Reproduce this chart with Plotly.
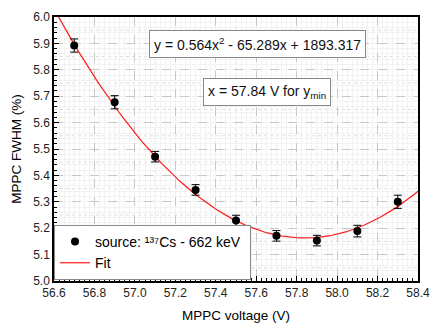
import numpy as np
import plotly.graph_objects as go

# Data
voltage = [56.7, 56.9, 57.1, 57.3, 57.5, 57.7, 57.9, 58.1, 58.3]
fwhm = [5.892, 5.677, 5.471, 5.345, 5.229, 5.171, 5.153, 5.189, 5.300]
fwhm_err = [0.025, 0.025, 0.020, 0.020, 0.020, 0.020, 0.020, 0.022, 0.025]

x_ticks = [56.6, 56.8, 57.0, 57.2, 57.4, 57.6, 57.8, 58.0, 58.2, 58.4]
x_ticklabels = ["56.6", "56.8", "57.0", "57.2", "57.4", "57.6", "57.8", "58.0", "58.2", "58.4"]
y_ticks = [5.0, 5.1, 5.2, 5.3, 5.4, 5.5, 5.6, 5.7, 5.8, 5.9, 6.0]
y_ticklabels = ["5.0", "5.1", "5.2", "5.3", "5.4", "5.5", "5.6", "5.7", "5.8", "5.9", "6.0"]

# Fit (quadratic) parameters as shown
fit_a = 0.564
fit_xmin = 57.84
fit_ymin = 5.163
fit_x = np.linspace(56.6, 58.4, 200)
fit_y = fit_a * (fit_x - fit_xmin) ** 2 + fit_ymin

x_range = [56.6, 58.4]
y_range = [5.0, 6.0]

fig = go.Figure()

# half-interval grid lines (minor grid)
shapes = []
for xv in np.arange(56.7, 58.4, 0.2):
    shapes.append(dict(type="line", xref="x", yref="paper", x0=xv, x1=xv, y0=0, y1=1,
                       line=dict(color="#dcdcdc", width=1, dash="dot"), layer="below"))
for yv in np.arange(5.05, 6.0, 0.1):
    shapes.append(dict(type="line", xref="paper", yref="y", x0=0, x1=1, y0=yv, y1=yv,
                       line=dict(color="#dcdcdc", width=1, dash="dot"), layer="below"))

fig.add_trace(go.Scatter(
    x=fit_x, y=fit_y, mode="lines", name="Fit",
    line=dict(color="#ff1a1a", width=1.2),
))
fig.add_trace(go.Scatter(
    x=voltage, y=fwhm, mode="markers",
    name="source: ¹³⁷Cs - 662 keV&nbsp;",
    marker=dict(color="black", size=8),
    error_y=dict(type="data", array=fwhm_err, color="black", thickness=1, width=4),
))

axis_font = dict(family="Liberation Sans, Arial", size=12, color="#222")
fig.update_layout(
    width=430, height=323,
    margin=dict(l=54, r=12, t=17, b=42),
    paper_bgcolor="white", plot_bgcolor="white",
    font=dict(family="Liberation Sans, Arial", size=13, color="black"),
    showlegend=True,
    shapes=shapes,
    legend=dict(
        x=0.0, y=0.004, xanchor="left", yanchor="bottom",
        bgcolor="white", bordercolor="#888", borderwidth=1,
        font=dict(size=14), traceorder="reversed",
        tracegroupgap=0, itemwidth=30,
    ),
    xaxis=dict(
        range=x_range, tickmode="array", tickvals=x_ticks, ticktext=x_ticklabels,
        showgrid=True, gridcolor="#c8c8c8", griddash="dash", gridwidth=1,
        ticks="inside", ticklen=5, tickcolor="black",
        showline=True, linecolor="black", linewidth=1.5, mirror=True,
        zeroline=False, tickfont=axis_font, automargin=False,
        ticklabeloverflow="allow",
        minor=dict(dtick=0.025, tick0=56.6, ticks="inside", ticklen=3, tickcolor="black",
                   showgrid=True, gridcolor="#f2f2f2", griddash="solid"),
        title=dict(text="MPPC voltage (V)", font=dict(size=13.5), standoff=14),
    ),
    yaxis=dict(
        range=y_range, tickmode="array", tickvals=y_ticks, ticktext=y_ticklabels,
        showgrid=True, gridcolor="#c8c8c8", griddash="dash", gridwidth=1,
        ticks="inside", ticklen=5, tickcolor="black",
        showline=True, linecolor="black", linewidth=1.5, mirror=True,
        zeroline=False, tickfont=axis_font, automargin=False,
        ticklabeloverflow="allow",
        minor=dict(dtick=0.02, tick0=5.0, ticks="inside", ticklen=3, tickcolor="black",
                   showgrid=True, gridcolor="#f2f2f2", griddash="solid"),
        title=dict(text="MPPC FWHM (%)", font=dict(size=13.5), standoff=8),
    ),
    annotations=[
        dict(xref="paper", yref="paper", x=0.5597, y=0.8975,
             xanchor="center", yanchor="middle",
             text="y = 0.564x<sup>2</sup> - 65.289x + 1893.317",
             showarrow=False, bgcolor="white", bordercolor="#888", borderwidth=1,
             borderpad=4, font=dict(size=14, color="#111")),
        dict(xref="paper", yref="paper", x=0.586, y=0.715,
             xanchor="center", yanchor="middle",
             text="x = 57.84 V for y<sub>min</sub>",
             showarrow=False, bgcolor="white", bordercolor="#888", borderwidth=1,
             borderpad=4, font=dict(size=14, color="#111")),
    ],
)

fig.write_html("out.html", config={"displayModeBar": False},
               post_script="document.body.style.margin='0';")
